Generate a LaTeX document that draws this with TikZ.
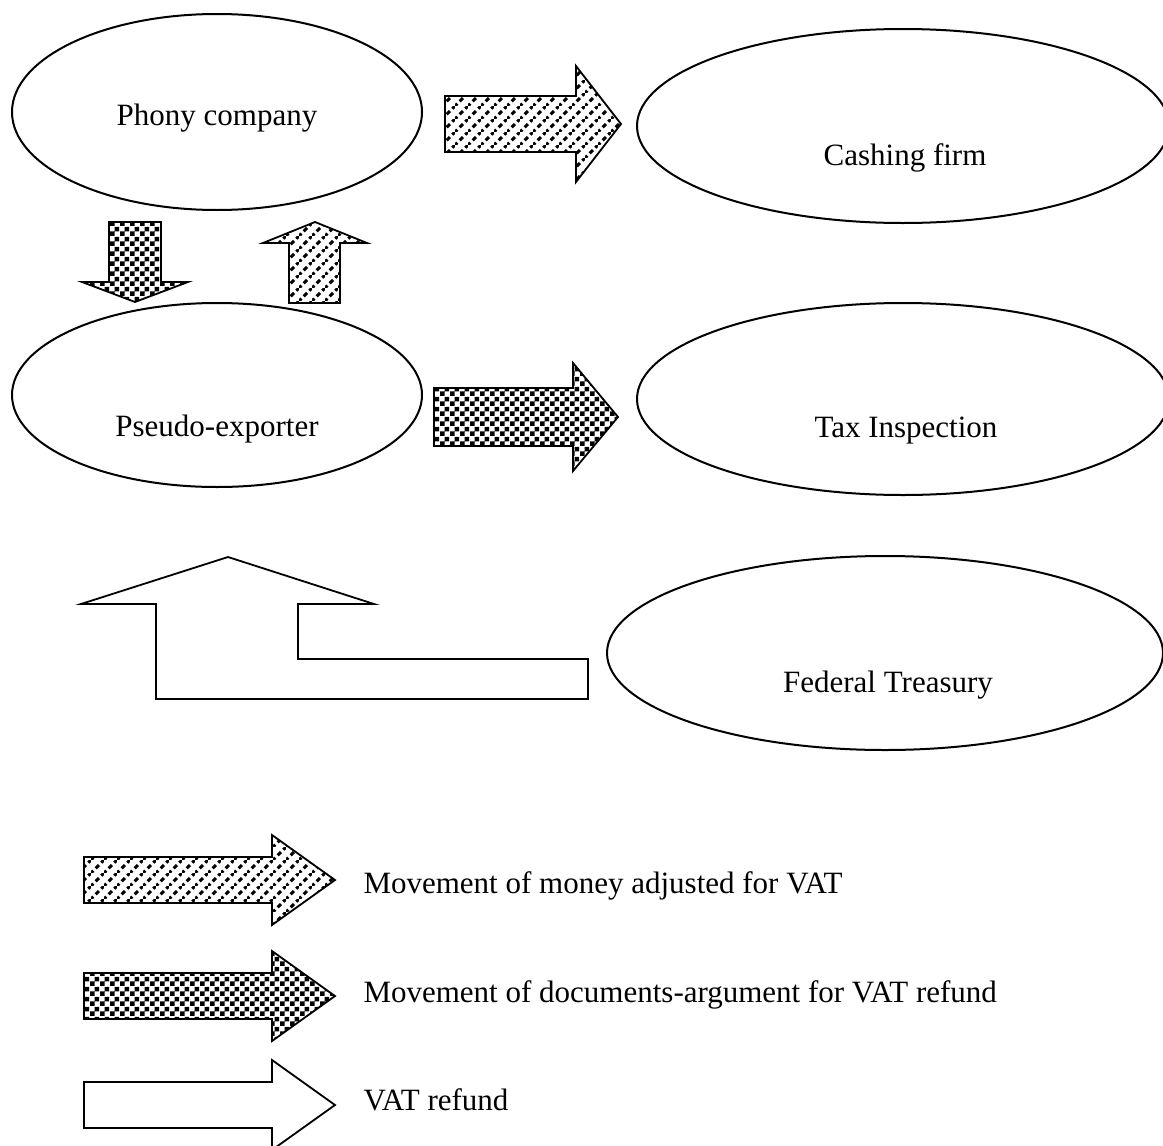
\documentclass[tikz,border=0pt]{standalone}
\usepackage{fontspec}
\setmainfont{Liberation Serif}
\usetikzlibrary{shapes.geometric,patterns}
\definecolor{myblack}{rgb}{0.000,0.000,0.000}
\definecolor{mywhite}{rgb}{1.000,1.000,1.000}
% fill patterns of the block arrows
\pgfdeclarepatternformonly{chess}{\pgfpointorigin}{\pgfqpoint{10pt}{10pt}}{\pgfqpoint{10pt}{10pt}}{
  \pgfpathrectangle{\pgfpointorigin}{\pgfqpoint{5pt}{5pt}}
  \pgfpathrectangle{\pgfqpoint{5pt}{5pt}}{\pgfqpoint{5pt}{5pt}}
  \pgfusepath{fill}}
\pgfdeclarepatternformonly{dashdiag}{\pgfpointorigin}{\pgfqpoint{13pt}{13pt}}{\pgfqpoint{13pt}{13pt}}{
  \pgfsetlinewidth{3.2pt}
  \pgfsetdash{{5pt}{3.5pt}}{0pt}
  \pgfpathmoveto{\pgfqpoint{-1pt}{-1pt}}
  \pgfpathlineto{\pgfqpoint{14pt}{14pt}}
  \pgfusepath{stroke}}
\tikzstyle{firm}=[ellipse,draw=myblack,line width=2pt,inner sep=0pt,outer sep=0pt]
\tikzstyle{firmlabel}=[font=\fontsize{31}{36}\selectfont,anchor=base]
\tikzstyle{legendtext}=[font=\fontsize{31}{36}\selectfont,anchor=base west]
\tikzstyle{money}=[draw=myblack,line width=1.8pt,pattern=dashdiag,pattern color=myblack]
\tikzstyle{docs}=[draw=myblack,line width=1.8pt,pattern=chess,pattern color=myblack]
\tikzstyle{refund}=[draw=myblack,line width=1.8pt,fill=mywhite]

\begin{document}
\begin{tikzpicture}[x=1pt,y=-1pt]
	\useasboundingbox (0,0) rectangle (1163,1146);
	% participants
		\node [style=firm,minimum width=410pt,minimum height=196pt] (phony) at (217,112) {};
		\node [style=firm,minimum width=410pt,minimum height=184pt] (pseudo) at (217,395) {};
		\node [style=firm,minimum width=532pt,minimum height=194pt] (cashing) at (903,126) {};
		\node [style=firm,minimum width=532pt,minimum height=192pt] (tax) at (903,399) {};
		\node [style=firm,minimum width=556pt,minimum height=194pt] (treasury) at (885,653) {};
		\node [style=firmlabel] (phonytxt) at (217,125) {Phony company};
		\node [style=firmlabel] (pseudotxt) at (217,436) {Pseudo-exporter};
		\node [style=firmlabel] (cashingtxt) at (905,165) {Cashing firm};
		\node [style=firmlabel] (taxtxt) at (906,437) {Tax Inspection};
		\node [style=firmlabel] (treasurytxt) at (888,692) {Federal Treasury};
	% flows
	\filldraw [style=money] (445,96) -- (576,96) -- (576,66) -- (621,124) -- (576,182) -- (576,152) -- (445,152) -- cycle;
	\filldraw [style=docs] (434,388) -- (573,388) -- (573,363) -- (618,417) -- (573,471) -- (573,446) -- (434,446) -- cycle;
	\filldraw [style=docs] (109,222) -- (161,222) -- (161,282) -- (188,282) -- (135,302) -- (82,282) -- (109,282) -- cycle;
	\filldraw [style=money] (289,303) -- (289,243) -- (263,243) -- (315,222) -- (367,243) -- (340,243) -- (340,303) -- cycle;
	\filldraw [style=refund] (588,699) -- (156,699) -- (156,604) -- (81,604) -- (228,557) -- (374,604) -- (298,604) -- (298,659) -- (588,659) -- cycle;
	% legend
	\filldraw [style=money] (84,857) -- (272,857) -- (272,835) -- (335,880) -- (272,925) -- (272,903) -- (84,903) -- cycle;
	\filldraw [style=docs] (84,973) -- (272,973) -- (272,951) -- (335,996) -- (272,1041) -- (272,1019) -- (84,1019) -- cycle;
	\filldraw [style=refund] (84,1082) -- (272,1082) -- (272,1060) -- (335,1105) -- (272,1150) -- (272,1128) -- (84,1128) -- cycle;
		\node [style=legendtext] (moneytxt) at (360,893) {Movement of money adjusted for VAT};
		\node [style=legendtext] (docstxt) at (360,1002) {Movement of documents-argument for VAT refund};
		\node [style=legendtext] (refundtxt) at (360,1110) {VAT refund};
\end{tikzpicture}
\end{document}
